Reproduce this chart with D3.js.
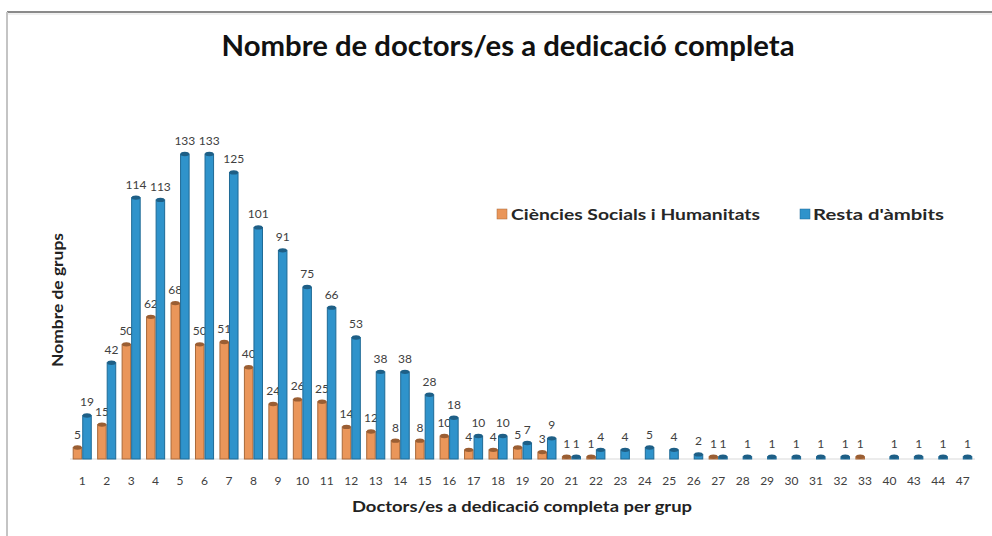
<!DOCTYPE html>
<html><head><meta charset="utf-8">
<script src="https://cdn.jsdelivr.net/npm/d3@7/dist/d3.min.js"></script>
<style>
html,body{margin:0;padding:0;background:#fff;}
svg{display:block;font-family:Lato,"Open Sans",sans-serif;}
</style></head>
<body><svg id="chart" width="992" height="536"></svg>
<script>
const categories = ["1","2","3","4","5","6","7","8","9","10","11","12","13","14","15","16","17","18","19","20","21","22","23","24","25","26","27","28","29","30","31","32","33","40","43","44","47"];
const socialsHumanitats = [5,15,50,62,68,50,51,40,24,26,25,14,12,8,8,10,4,4,5,3,1,1,null,null,null,null,1,null,null,null,null,null,1,null,null,null,null];
const restaAmbits = [19,42,114,113,133,133,125,101,91,75,66,53,38,38,28,18,10,10,7,9,1,4,4,5,4,2,1,1,1,1,1,1,null,1,1,1,1];
const seriesNames = ["Ciències Socials i Humanitats","Resta d'àmbits"];
const titleText = "Nombre de doctors/es a dedicació completa";
const xTitle = "Doctors/es a dedicació completa per grup";
const yTitle = "Nombre de grups";

const colors = [
  {fill:"#EA965A", stroke:"#A9693A", cap:"#9A5E33"},
  {fill:"#2F93CB", stroke:"#1F6A96", cap:"#1E5F86"}
];

const svg = d3.select("#chart");

// frame
svg.append("line").attr("x1",7).attr("x2",992).attr("y1",12).attr("y2",12).attr("stroke","#8a8a8a").attr("stroke-width",2);
svg.append("line").attr("x1",7).attr("x2",992).attr("y1",14).attr("y2",14).attr("stroke","#e0e0e0").attr("stroke-width",1);
svg.append("line").attr("x1",7).attr("x2",7).attr("y1",12).attr("y2",536).attr("stroke","#c4c4c4").attr("stroke-width",2);

const x = d3.scaleBand().domain(categories).range([70,975]).paddingInner(0.22).paddingOuter(0.11);
const xs = d3.scaleBand().domain([0,1]).range([0,x.bandwidth()]);
const y = d3.scaleLinear().domain([0,140]).range([459,138]);

// baseline
svg.append("line").attr("x1",70).attr("x2",975).attr("y1",y(0)).attr("y2",y(0)).attr("stroke","#d9d9d9").attr("stroke-width",1);

const data = [socialsHumanitats, restaAmbits];
data.forEach((vals, si) => {
  const g = svg.append("g");
  const pts = vals.map((v,i)=>({v, c:categories[i]})).filter(d=>d.v!==null);
  const bw = xs.bandwidth();
  g.selectAll("rect").data(pts).enter().append("rect")
    .attr("x", d=>x(d.c)+xs(si)+0.5)
    .attr("y", d=>y(d.v))
    .attr("width", bw-1)
    .attr("height", d=>y(0)-y(d.v))
    .attr("fill", colors[si].fill)
    .attr("stroke", colors[si].stroke)
    .attr("stroke-width",1);
  g.selectAll("ellipse").data(pts).enter().append("ellipse")
    .attr("cx", d=>x(d.c)+xs(si)+bw/2)
    .attr("cy", d=>y(d.v))
    .attr("rx", bw/2-0.5)
    .attr("ry", 2.2)
    .attr("fill", colors[si].cap);
  g.selectAll("text").data(pts).enter().append("text")
    .attr("x", d=>x(d.c)+xs(si)+bw/2)
    .attr("y", d=>y(d.v)-9)
    .attr("text-anchor","middle")
    .attr("font-size","12px")
    .attr("fill","#404040")
    .text(d=>d.v);
});

// x axis
const xAxis = d3.axisBottom(x).tickSize(0).tickPadding(0);
const ax = svg.append("g").attr("transform",`translate(0,${y(0)})`).call(xAxis);
ax.select(".domain").remove();
ax.selectAll("text").attr("dy","0").attr("y",26).attr("font-size","12px").attr("fill","#404040").attr("font-family","Lato,sans-serif");

// titles
svg.append("text").attr("x",508).attr("y",56).attr("text-anchor","middle")
  .attr("font-size","28px").attr("font-weight","bold").attr("fill","#111")
  .attr("textLength",573).attr("lengthAdjust","spacingAndGlyphs").text(titleText);
svg.append("text").attr("x",522).attr("y",512).attr("text-anchor","middle")
  .attr("font-size","15px").attr("font-weight","bold").attr("fill","#222")
  .attr("textLength",340).attr("lengthAdjust","spacingAndGlyphs").text(xTitle);
svg.append("text").attr("transform","translate(63,300) rotate(-90)").attr("text-anchor","middle")
  .attr("font-size","15px").attr("font-weight","bold").attr("fill","#222")
  .attr("textLength",134).attr("lengthAdjust","spacingAndGlyphs").text(yTitle);

// legend
const legend = [{x:497, tx:511, w:249},{x:800, tx:813, w:131}];
legend.forEach((l,i)=>{
  svg.append("rect").attr("x",l.x).attr("y",209).attr("width",10).attr("height",10).attr("fill",colors[i].fill).attr("stroke",colors[i].stroke).attr("stroke-width",0.5);
  svg.append("text").attr("x",l.tx).attr("y",219.5).attr("font-size","15px").attr("font-weight","bold").attr("fill","#262626")
    .attr("textLength",l.w).attr("lengthAdjust","spacingAndGlyphs").text(seriesNames[i]);
});
</script></body></html>
